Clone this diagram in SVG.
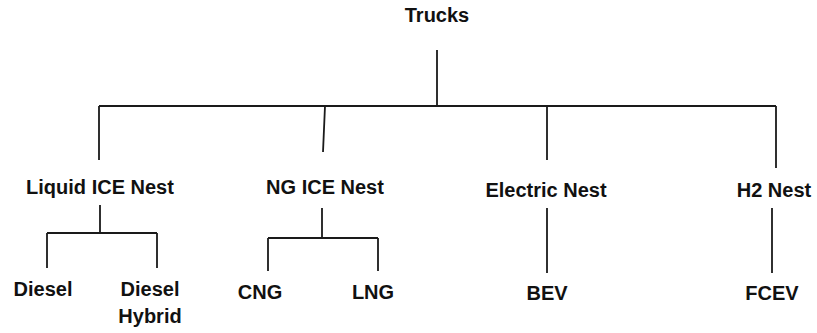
<svg xmlns="http://www.w3.org/2000/svg" width="817" height="333" viewBox="0 0 817 333">
<style>
text{font-family:"Liberation Sans",Arial,sans-serif;font-weight:bold;font-size:20px;fill:#111;text-anchor:middle}
.c{stroke:#1a1a1a;stroke-width:1.8;fill:none;stroke-linecap:butt}
</style>
<rect width="817" height="333" fill="#fff"/>
<g id="connectors" class="c">
<path d="M437 50V106M99 106H776M99 106V160M325 106L323 152M547 106V160M776 106V168"/>
<path d="M100 205V233M47 233H157M47 233V268M157 233V268"/>
<path d="M322 208V238M268 238H378M268 238V271M378 238V271"/>
<path d="M547 208V273"/>
<path d="M772 208V273"/>
</g>
<g id="trucks"><text x="437" y="22">Trucks</text></g>
<g id="liquid-ice-nest"><text x="100" y="194">Liquid ICE Nest</text></g>
<g id="ng-ice-nest"><text x="325" y="194">NG ICE Nest</text></g>
<g id="electric-nest"><text x="546" y="197">Electric Nest</text></g>
<g id="h2-nest"><text x="774" y="197">H2 Nest</text></g>
<g id="diesel"><text x="43" y="296">Diesel</text></g>
<g id="diesel-hybrid"><text x="150" y="296">Diesel</text><text x="150" y="323">Hybrid</text></g>
<g id="cng"><text x="260" y="299">CNG</text></g>
<g id="lng"><text x="373" y="299">LNG</text></g>
<g id="bev"><text x="547" y="300">BEV</text></g>
<g id="fcev"><text x="772" y="300">FCEV</text></g>
</svg>
